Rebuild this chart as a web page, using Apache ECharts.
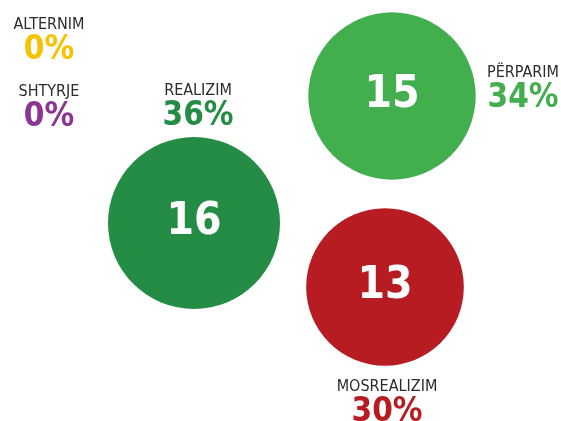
<!DOCTYPE html>
<html>
<head>
<meta charset="utf-8">
<script src="https://cdn.jsdelivr.net/npm/echarts@6/dist/echarts.min.js"></script>
<style>
  html, body { margin: 0; padding: 0; background: #fff; }
  #chart { width: 561px; height: 421px; }
</style>
</head>
<body>
<div id="chart"></div>
<script>
// data
var categories = ['REALIZIM', 'PËRPARIM', 'MOSREALIZIM', 'ALTERNIM', 'SHTYRJE'];
var counts = [16, 15, 13, 0, 0];
var percents = [36, 34, 30, 0, 0];

// layout (pixel space of the hidden grid) and styles
var bubblePos = [[194, 223], [392, 96], [385, 287], null, null];
var labelPos = [[198, 106], [523, 88], [387, 402], [49, 40], [49, 107]];
var colors = ['#258c45', '#43ae4d', '#b71c22', '#f6c200', '#8c3593'];
var font = '"Liberation Sans Narrow", "DejaVu Sans Condensed", sans-serif';

var chartDom = document.getElementById('chart');
var myChart = echarts.init(chartDom);

var bubbleData = [];
var labelData = [];
categories.forEach(function (name, i) {
  if (counts[i] > 0) {
    bubbleData.push({
      name: name,
      value: [bubblePos[i][0], bubblePos[i][1], counts[i]],
      itemStyle: { color: colors[i], opacity: 1 }
    });
  }
  labelData.push({
    name: name,
    value: [labelPos[i][0], labelPos[i][1], percents[i]],
    label: {
      formatter: '{n|' + name + '}\n{p|' + percents[i] + '%}',
      rich: {
        n: { fontFamily: font, fontSize: 16, color: '#2b2b2b', lineHeight: 20, align: 'center' },
        p: { fontFamily: font, fontSize: 33, fontWeight: 'bold', color: colors[i], lineHeight: 30, align: 'center' }
      }
    }
  });
});

var option = {
  backgroundColor: '#fff',
  animation: false,
  grid: { left: 0, right: 0, top: 0, bottom: 0 },
  xAxis: { type: 'value', min: 0, max: 561, show: false },
  yAxis: { type: 'value', min: 0, max: 421, inverse: true, show: false },
  series: [
    {
      type: 'scatter',
      data: bubbleData,
      symbolSize: function (v) { return 172 * Math.pow(v[2] / 16, 0.42); },
      itemStyle: { opacity: 1 },
      label: {
        show: true,
        position: 'inside',
        formatter: function (p) { return p.value[2]; },
        color: '#fff',
        fontFamily: font,
        fontWeight: 'bold',
        fontSize: 44
      },
      emphasis: { disabled: true }
    },
    {
      type: 'scatter',
      data: labelData,
      symbolSize: 0,
      itemStyle: { opacity: 1 },
      label: { show: true, position: 'inside' },
      emphasis: { disabled: true }
    }
  ]
};

option && myChart.setOption(option);

window.addEventListener('resize', function () {
  myChart.resize();
});
</script>
</body>
</html>
